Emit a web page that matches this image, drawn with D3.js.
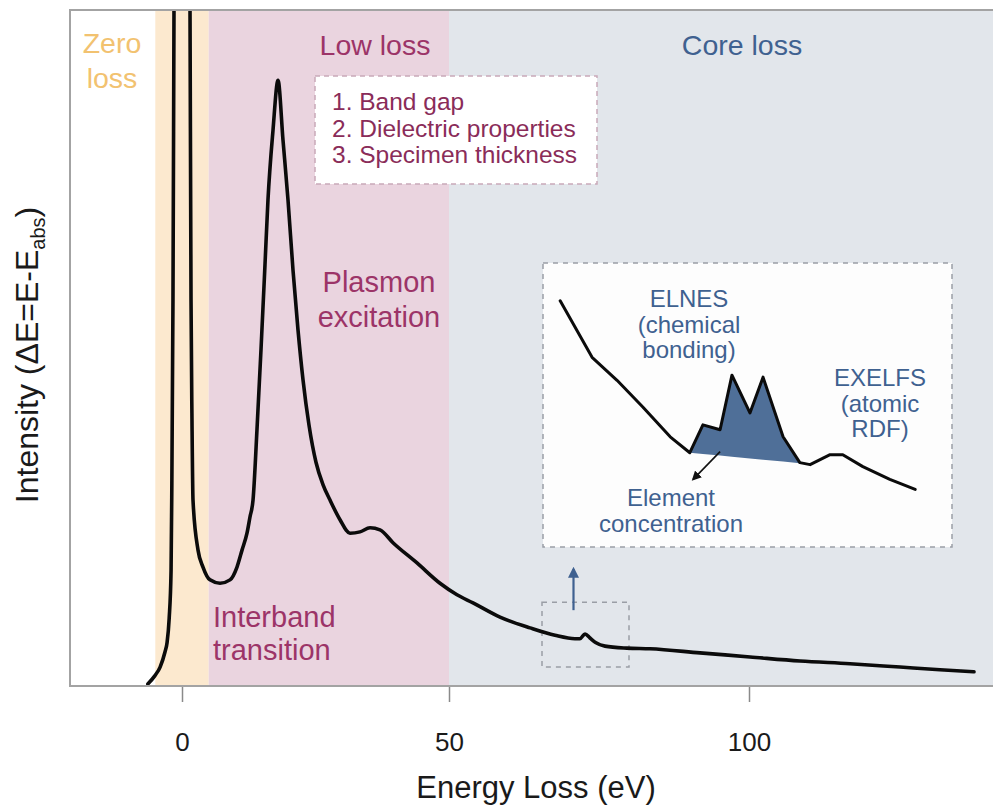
<!DOCTYPE html>
<html>
<head>
<meta charset="utf-8">
<script src="https://cdn.jsdelivr.net/npm/d3@7"></script>
<style>
  html, body { margin: 0; padding: 0; background: #ffffff; }
  svg { display: block; font-family: "Liberation Sans", Arial, Helvetica, sans-serif; }
</style>
</head>
<body>
<svg id="chart" width="993" height="808"></svg>
<script>
// Energy regions of the EELS spectrum (eV)
const regionNames = ["Zero loss", "Low loss", "Core loss"];
const regionStart = [-5, 5, 50];
const regionEnd   = [5, 50, 150];

// Axis ticks (eV)
const tickValues = [0, 50, 100];

// Spectrum: energy loss (eV) and relative intensity (zero-loss peak runs off scale)
const spectrumE = [-6.4, -5.1, -4.1, -3.2, -2.8, -2.4, -2.05, -1.9, -1.69, -1.5, 0,
  1.5, 1.69, 1.87, 2.06, 3.0, 3.93, 5.24, 7.12, 8.99, 10.3, 11.24, 12.17, 12.73, 13.3,
  14.04, 14.79, 15.54, 16.1, 17.04, 17.98, 18.91, 19.85, 20.79, 21.72, 22.66, 23.78,
  25.09, 26.4, 27.72, 29.59, 31.46, 33.33, 35.21, 37.08, 39.51, 44.01, 48.31, 51.33,
  54.0, 58.5, 63.5, 67.67, 71.0, 71.83, 72.67, 73.5, 74.5, 76.0, 79.67, 83.5, 91.83,
  100.17, 108.5, 116.83, 125.17, 131.83, 137.5];
const spectrumI = [0.003, 0.015, 0.028, 0.050, 0.064, 0.10, 0.17, 0.30, 0.571, 1.0, 2.6,
  1.0, 0.571, 0.393, 0.275, 0.201, 0.176, 0.157, 0.152, 0.157, 0.176, 0.201, 0.226, 0.250, 0.275,
  0.379, 0.497, 0.623, 0.719, 0.822, 0.896, 0.808, 0.719, 0.615, 0.527, 0.453, 0.386,
  0.331, 0.298, 0.275, 0.246, 0.226, 0.228, 0.234, 0.231, 0.212, 0.182, 0.152, 0.135,
  0.123, 0.102, 0.086, 0.075, 0.070, 0.070, 0.077, 0.071, 0.064, 0.059, 0.056, 0.055, 0.049,
  0.043, 0.037, 0.033, 0.028, 0.024, 0.021];

// Magnified core-loss edge (arbitrary inset units, 0–100 on both axes)
const insetE = [4.2, 12.0, 18.1, 24.4, 31.1, 35.9, 39.1, 43.3, 46.2, 50.6, 53.8, 58.7,
  62.8, 65.3, 70.2, 73.3, 78.2, 84.8, 91.0];
const insetI = [86.7, 66.8, 58.7, 49.3, 38.8, 33.2, 43.0, 41.3, 60.5, 47.2, 59.8, 38.8,
  29.7, 29.0, 32.5, 32.5, 28.3, 23.8, 20.3];
// Edge area (ELNES) between edge onset and return to background
const edgeFrom = 35.9, edgeTo = 63.6;
const edgeBaseFrom = 33.2, edgeBaseTo = 29.4;

// Region around the small edge that the inset magnifies (eV, intensity)
const detailE = [65.5, 80];
const detailI = [0.028, 0.124];

// Texts
const lowLossNotes = ["1. Band gap", "2. Dielectric properties", "3. Specimen thickness"];

const C = {
  zero: "#fce9cf", low: "#ead4df", core: "#e2e6eb",
  zeroText: "#f2c270", lowText: "#9c3468", coreText: "#3f6190",
  frame: "#a3a3a3", dash: "#9a9ea6", edge: "#4f6f98"
};

const svg = d3.select("#chart");
const W = 993, H = 808;
const plot = { left: 70, right: 1000, top: 10, bottom: 686 };

// x axis is drawn with unequal spacing between ticks, hence a piecewise scale
const x = d3.scaleLinear().domain(tickValues).range([182, 449, 749]);
const y = d3.scaleLinear().domain([0, 1]).range([plot.bottom, plot.top]);

svg.append("rect").attr("width", W).attr("height", H).attr("fill", "#fff");

svg.append("defs").append("clipPath").attr("id", "plotClip")
  .append("rect").attr("x", plot.left).attr("y", plot.top)
  .attr("width", plot.right - plot.left).attr("height", plot.bottom - plot.top);

// Region bands
const bandColors = [C.zero, C.low, C.core];
svg.append("g").attr("clip-path", "url(#plotClip)")
  .selectAll("rect").data(regionNames).join("rect")
  .attr("x", (d, i) => x(regionStart[i]))
  .attr("width", (d, i) => x(regionEnd[i]) - x(regionStart[i]))
  .attr("y", plot.top).attr("height", plot.bottom - plot.top)
  .attr("fill", (d, i) => bandColors[i]);

// Region titles
const titleFont = 28.5;
const zeroLines = regionNames[0].split(" ");
svg.append("text").attr("text-anchor", "middle")
  .attr("font-size", titleFont).attr("fill", C.zeroText)
  .selectAll("tspan").data(zeroLines).join("tspan")
  .attr("x", 112).attr("y", (d, i) => 53 + i * 35).text(d => d);
svg.append("text").attr("x", 375).attr("y", 55)
  .attr("text-anchor", "middle").attr("font-size", titleFont).attr("fill", C.lowText)
  .text(regionNames[1]);
svg.append("text").attr("x", 742).attr("y", 55)
  .attr("text-anchor", "middle").attr("font-size", titleFont).attr("fill", C.coreText)
  .text(regionNames[2]);

// Low-loss information box
svg.append("rect").attr("x", 315).attr("y", 76).attr("width", 282).attr("height", 108)
  .attr("fill", "#fff").attr("stroke", "#c9a9b9").attr("stroke-width", 1.5)
  .attr("stroke-dasharray", "5,4");
svg.append("g").selectAll("text").data(lowLossNotes).join("text")
  .attr("x", 332).attr("y", (d, i) => 110 + i * 26.5)
  .attr("font-size", 24.5).attr("fill", "#8a2c59").text(d => d);

// Annotations in low-loss region
svg.append("text").attr("text-anchor", "middle").attr("font-size", 29).attr("fill", C.lowText)
  .selectAll("tspan").data(["Plasmon", "excitation"]).join("tspan")
  .attr("x", 379).attr("y", (d, i) => 292 + i * 35).text(d => d);
svg.append("text").attr("font-size", 29).attr("fill", C.lowText)
  .selectAll("tspan").data(["Interband", "transition"]).join("tspan")
  .attr("x", 213).attr("y", (d, i) => 627 + i * 33).text(d => d);

// Detail window around the small core-loss edge
svg.append("rect")
  .attr("x", x(detailE[0])).attr("y", y(detailI[1]))
  .attr("width", x(detailE[1]) - x(detailE[0])).attr("height", y(detailI[0]) - y(detailI[1]))
  .attr("fill", "none").attr("stroke", C.dash).attr("stroke-width", 1.5)
  .attr("stroke-dasharray", "5,5");

// Arrow heads
const defs = svg.select("defs");
defs.append("marker").attr("id", "headBlue").attr("viewBox", "0 0 10 10")
  .attr("refX", 8).attr("refY", 5).attr("markerWidth", 5).attr("markerHeight", 5)
  .attr("orient", "auto").attr("markerUnits", "strokeWidth")
  .append("path").attr("d", "M0,0 L10,5 L0,10 Z").attr("fill", C.coreText);
defs.append("marker").attr("id", "headBlack").attr("viewBox", "0 0 10 10")
  .attr("refX", 8).attr("refY", 5).attr("markerWidth", 6).attr("markerHeight", 6)
  .attr("orient", "auto").attr("markerUnits", "strokeWidth")
  .append("path").attr("d", "M0,0 L10,5 L0,10 Z").attr("fill", "#111");

// Arrow pointing up from the detail window to the inset
const arrowX = x((detailE[0] + detailE[1]) / 2) - 12;
svg.append("line").attr("x1", arrowX).attr("x2", arrowX)
  .attr("y1", y(detailI[1]) + 8).attr("y2", 569)
  .attr("stroke", C.coreText).attr("stroke-width", 2.2).attr("marker-end", "url(#headBlue)");

// Spectrum
const spectrum = spectrumE.map((e, i) => [e, spectrumI[i]]);
svg.append("path").datum(spectrum)
  .attr("clip-path", "url(#plotClip)")
  .attr("fill", "none").attr("stroke", "#0b0b0b").attr("stroke-width", 3.6)
  .attr("stroke-linejoin", "round").attr("stroke-linecap", "round")
  .attr("d", d3.line().x(d => x(d[0])).y(d => y(d[1])).curve(d3.curveMonotoneX));

// Inset panel
const inset = { left: 543, right: 952, top: 263, bottom: 547 };
const ix = d3.scaleLinear().domain([0, 100]).range([inset.left, inset.right]);
const iy = d3.scaleLinear().domain([0, 100]).range([inset.bottom, inset.top]);
svg.append("rect").attr("x", inset.left).attr("y", inset.top)
  .attr("width", inset.right - inset.left).attr("height", inset.bottom - inset.top)
  .attr("fill", "#fdfdfd").attr("stroke", C.dash).attr("stroke-width", 1.5)
  .attr("stroke-dasharray", "5,5");

const insetPts = insetE.map((e, i) => [e, insetI[i]]);
const interpI = (e) => {
  for (let i = 1; i < insetPts.length; i++) {
    if (e <= insetPts[i][0]) {
      const [e0, v0] = insetPts[i - 1], [e1, v1] = insetPts[i];
      return v0 + (v1 - v0) * (e - e0) / (e1 - e0);
    }
  }
  return insetPts[insetPts.length - 1][1];
};
const edgePts = [[edgeFrom, interpI(edgeFrom)]]
  .concat(insetPts.filter(p => p[0] > edgeFrom && p[0] < edgeTo))
  .concat([[edgeTo, interpI(edgeTo)]]);
const baseAt = (e) => edgeBaseFrom + (edgeBaseTo - edgeBaseFrom) * (e - edgeFrom) / (edgeTo - edgeFrom);
svg.append("path").datum(edgePts)
  .attr("fill", C.edge)
  .attr("d", d3.area().x(d => ix(d[0])).y0(d => iy(baseAt(d[0]))).y1(d => iy(d[1])));
svg.append("path").datum(insetPts)
  .attr("fill", "none").attr("stroke", "#0b0b0b").attr("stroke-width", 3)
  .attr("stroke-linejoin", "round").attr("stroke-linecap", "round")
  .attr("d", d3.line().x(d => ix(d[0])).y(d => iy(d[1])));

// Arrow from edge area to element concentration
svg.append("line").attr("x1", ix(43.3)).attr("y1", iy(33.6))
  .attr("x2", ix(36.7)).attr("y2", iy(23.8))
  .attr("stroke", "#111").attr("stroke-width", 1.6).attr("marker-end", "url(#headBlack)");

const insetFont = 24;
const insetLabels = [
  { lines: ["ELNES", "(chemical", "bonding)"], x: 689, y: 307 },
  { lines: ["EXELFS", "(atomic", "RDF)"], x: 880, y: 386 },
  { lines: ["Element", "concentration"], x: 671, y: 506 }
];
insetLabels.forEach(l => {
  svg.append("text").attr("text-anchor", "middle").attr("font-size", insetFont).attr("fill", C.coreText)
    .selectAll("tspan").data(l.lines).join("tspan")
    .attr("x", l.x).attr("y", (d, i) => l.y + i * 25.5).text(d => d);
});

// Plot frame
svg.append("rect").attr("x", plot.left).attr("y", plot.top)
  .attr("width", plot.right - plot.left).attr("height", plot.bottom - plot.top)
  .attr("fill", "none").attr("stroke", C.frame).attr("stroke-width", 2);

// x axis
const xAxis = svg.append("g").attr("transform", `translate(0,${plot.bottom + 1})`)
  .call(d3.axisBottom(x).tickValues(tickValues).tickSize(15).tickPadding(31).tickFormat(d3.format("d")));
xAxis.select(".domain").remove();
xAxis.selectAll(".tick line").attr("stroke", "#8a8a8a").attr("stroke-width", 1.5);
xAxis.selectAll(".tick text").attr("font-size", 26).attr("fill", "#1a1a1a")
  .attr("font-family", "'Liberation Sans', Arial, sans-serif");

// Axis titles
svg.append("text").attr("x", 536).attr("y", 798).attr("text-anchor", "middle")
  .attr("font-size", 31).attr("fill", "#1a1a1a").text("Energy Loss (eV)");

const yTitle = svg.append("text")
  .attr("transform", "translate(38,355) rotate(-90)")
  .attr("text-anchor", "middle").attr("font-size", 32).attr("fill", "#1a1a1a");
yTitle.append("tspan").text("Intensity (ΔE=E-E");
yTitle.append("tspan").attr("font-size", 20).attr("dy", 7).text("abs");
yTitle.append("tspan").attr("dy", -7).text(")");
</script>
</body>
</html>
